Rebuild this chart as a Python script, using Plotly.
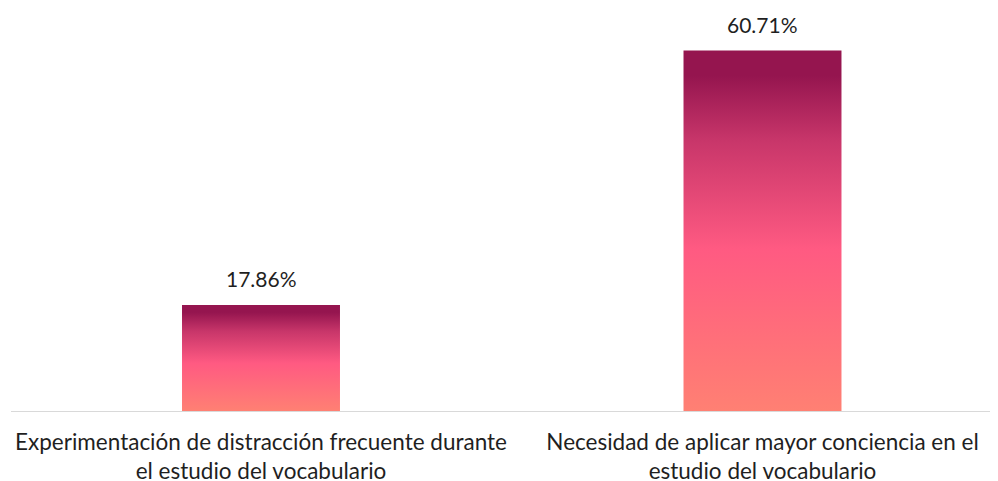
import plotly.graph_objects as go

categories = [
    "Experimentación de distracción frecuente durante<br>el estudio del vocabulario",
    "Necesidad de aplicar mayor conciencia en el<br>estudio del vocabulario",
]
values = [17.86, 60.71]
value_labels = ["17.86%", "60.71%"]

FONT = "Lato"
TEXT_COLOR = "#1F1F1F"
half_w = 0.1575
colorscale = [
    [0.0, "#FF8073"],
    [0.45, "#FF5A82"],
    [0.75, "#C8366A"],
    [0.93, "#95154F"],
    [1.0, "#95154F"],
]

fig = go.Figure()
for i, v in enumerate(values):
    xs = [i - half_w, i + half_w, i + half_w, i - half_w, i - half_w]
    ys = [0, 0, v, v, 0]
    fig.add_trace(go.Scatter(
        x=xs, y=ys, mode="lines", fill="toself",
        line=dict(width=0, color="rgba(0,0,0,0)"),
        fillgradient=dict(type="vertical", colorscale=colorscale),
        hoverinfo="skip", showlegend=False,
    ))

for i, (v, lab) in enumerate(zip(values, value_labels)):
    fig.add_annotation(
        x=i, y=v, text=lab, showarrow=False,
        xanchor="center", yanchor="bottom", yshift=12,
        font=dict(family=FONT, size=21, color=TEXT_COLOR),
    )

# page body has an 8px default margin; offset the figure accordingly
fig.update_layout(
    width=990, height=481,
    margin=dict(l=3, r=0, t=12, b=78, autoexpand=False),
    paper_bgcolor="white", plot_bgcolor="white",
    font=dict(family=FONT, color=TEXT_COLOR),
)
fig.update_xaxes(
    range=[-0.4985, 1.4696], automargin=False,
    tickvals=list(range(len(categories))), ticktext=categories,
    tickfont=dict(family=FONT, size=22.5, color=TEXT_COLOR),
    showgrid=False, zeroline=False,
    showline=True, linecolor="#D9D9D9", linewidth=1,
    ticks="", ticklabelstandoff=11,
)
fig.update_yaxes(
    range=[0, 65.85], visible=False, showgrid=False, zeroline=False,
    automargin=False,
)

fig.write_html("out.html")
